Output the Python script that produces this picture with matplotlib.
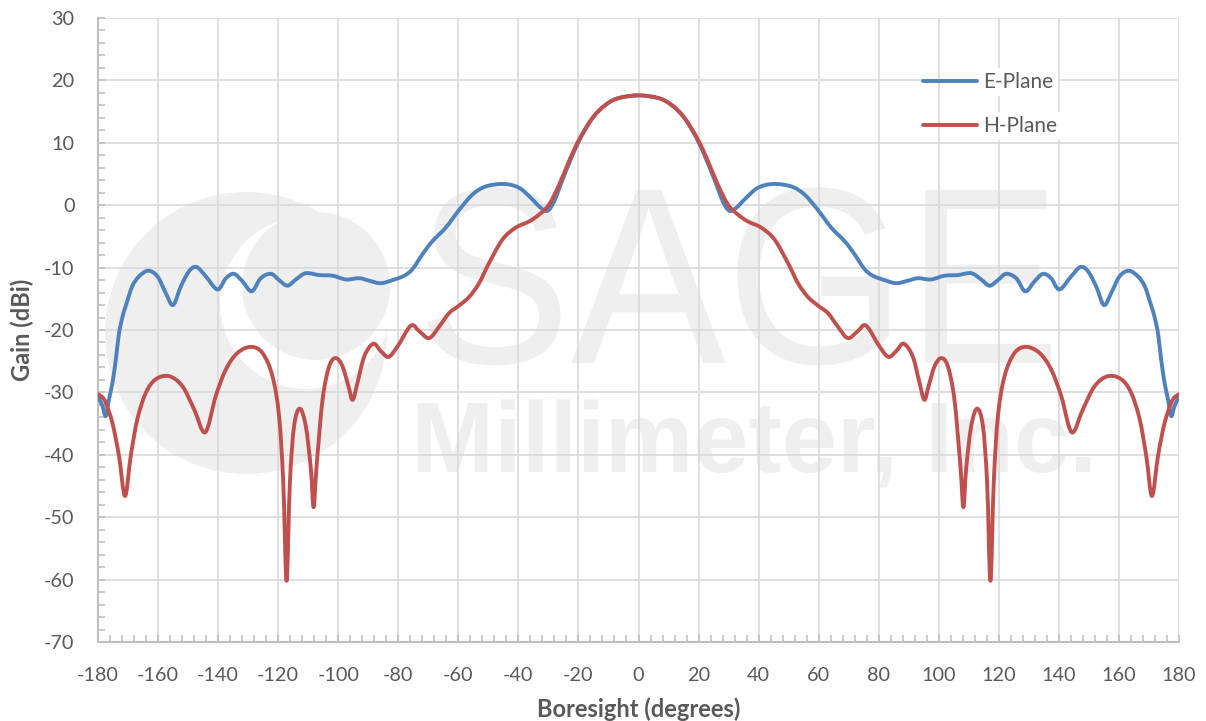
import matplotlib
matplotlib.use("Agg")
import matplotlib.pyplot as plt
from matplotlib.ticker import MultipleLocator
from matplotlib.textpath import TextPath
from matplotlib.patches import PathPatch, Circle
from matplotlib.path import Path
from matplotlib.lines import Line2D
from matplotlib.font_manager import FontProperties
from matplotlib.transforms import Affine2D

# ---------------- data ----------------
E_ANGLE = [-180, -178.5, -177.4, -176.3, -175.2, -174, -173, -171.8, -170.8, -168.6,
           -166.3, -163.3, -160.2, -157.4, -155, -152.4, -149.7, -147.2, -144.1, -140.2,
           -137.4, -134.7, -131.9, -128.8, -125.8, -122.4, -119.7, -116.9, -114.1, -110.8,
           -106.3, -101.9, -97.4, -93, -89.7, -85.8, -81.9, -78, -75.2, -72,
           -68.7, -64.2, -59.8, -55.3, -50.9, -44.8, -39.8, -35.9, -32.6, -30.3,
           -28.1, -25.3, -22.6, -19.8, -16.4, -13.1, -8.7, -4.2, 0,
           4.2, 8.7, 13.1, 16.4, 19.8, 22.6, 25.3, 28.1,
           30.3, 32.6, 35.9, 39.8, 44.8, 50.9, 55.3, 59.8, 64.2, 68.7,
           72, 75.2, 78, 81.9, 85.8, 89.7, 93, 97.4, 101.9, 106.3,
           110.8, 114.1, 116.9, 119.7, 122.4, 125.8, 128.8, 131.9, 134.7, 137.4,
           140.2, 144.1, 147.2, 149.7, 152.4, 155, 157.4, 160.2, 163.3, 166.3,
           168.6, 170.8, 171.8, 173, 174, 175.2, 176.3, 177.4, 178.5, 180]
E_GAIN = [-30.6, -32.2, -33.8, -31.0, -28.5, -24.5, -20.5, -17.8, -16.2, -13.0,
          -11.4, -10.5, -11.4, -14.1, -16.0, -13.0, -10.6, -9.9, -11.4, -13.5,
          -11.7, -11.0, -12.2, -13.8, -11.7, -11.0, -12.0, -12.9, -11.9, -10.9,
          -11.2, -11.3, -11.9, -11.7, -12.1, -12.5, -12.0, -11.3, -10.2, -7.9,
          -5.8, -3.6, -0.8, 1.7, 3.0, 3.4, 2.8, 1.2, -0.4, -0.9,
          0.6, 4.1, 7.3, 10.3, 13.2, 15.2, 16.8, 17.4, 17.6,
          17.4, 16.8, 15.2, 13.2, 10.3, 7.3, 4.1, 0.6,
          -0.9, -0.4, 1.2, 2.8, 3.4, 3.0, 1.7, -0.8, -3.6, -5.8,
          -7.9, -10.2, -11.3, -12.0, -12.5, -12.1, -11.7, -11.9, -11.3, -11.2,
          -10.9, -11.9, -12.9, -12.0, -11.0, -11.7, -13.8, -12.2, -11.0, -11.7,
          -13.5, -11.4, -9.9, -10.6, -13.0, -16.0, -14.1, -11.4, -10.5, -11.4,
          -13.0, -16.2, -17.8, -20.5, -24.5, -28.5, -31.0, -33.8, -32.2, -30.6]

H_ANGLE = [-180, -178.5, -177.4, -175.2, -173, -171, -169.1, -166.9, -164.1, -160.8,
           -156.3, -151.9, -148, -144.3, -140.8, -137.4, -133.6, -129.1, -125.2, -121.9,
           -119.7, -118.3, -117.2, -116.1, -114.7, -112.8, -110.8, -109.1, -108.2, -107.2,
           -105.2, -103, -100.8, -98.6, -96.6, -95.2, -93.6, -91.3, -88.3, -85.8,
           -83.2, -80.2, -75.8, -73, -69.7, -66.3, -63.1, -59.8, -56.4, -53.1,
           -49.8, -45.3, -40.9, -36.4, -33.1, -29.8, -26.4, -23.1, -19.8, -15.3,
           -10.9, -6.4, 0,
           6.4, 10.9, 15.3, 19.8, 23.1, 26.4, 29.8, 33.1, 36.4, 40.9,
           45.3, 49.8, 53.1, 56.4, 59.8, 63.1, 66.3, 69.7, 73, 75.8,
           80.2, 83.2, 85.8, 88.3, 91.3, 93.6, 95.2, 96.6, 98.6, 100.8,
           103, 105.2, 107.2, 108.2, 109.1, 110.8, 112.8, 114.7, 116.1, 117.2,
           118.3, 119.7, 121.9, 125.2, 129.1, 133.6, 137.4, 140.8, 144.3, 148,
           151.9, 156.3, 160.8, 164.1, 166.9, 169.1, 171, 173, 175.2, 177.4,
           178.5, 180]
H_GAIN = [-30.3, -30.8, -31.7, -34.9, -40.2, -46.6, -40.2, -34.3, -30.1, -27.9,
          -27.4, -29.0, -32.7, -36.4, -30.6, -26.3, -23.7, -22.7, -23.7, -27.4,
          -33.8, -44.5, -60.2, -44.5, -35.4, -32.6, -35.4, -42.3, -48.4, -41.8,
          -31.1, -25.8, -24.5, -25.8, -29.0, -31.2, -28.5, -24.2, -22.2, -23.4,
          -24.3, -22.6, -19.3, -20.2, -21.3, -19.4, -17.3, -16.1, -14.7, -12.5,
          -9.3, -5.5, -3.6, -2.6, -1.5, 0.1, 3.3, 7.1, 10.5, 14.0,
          16.1, 17.2, 17.6,
          17.2, 16.1, 14.0, 10.5, 7.1, 3.3, 0.1, -1.5, -2.6, -3.6,
          -5.5, -9.3, -12.5, -14.7, -16.1, -17.3, -19.4, -21.3, -20.2, -19.3,
          -22.6, -24.3, -23.4, -22.2, -24.2, -28.5, -31.2, -29.0, -25.8, -24.5,
          -25.8, -31.1, -41.8, -48.4, -42.3, -35.4, -32.6, -35.4, -44.5, -60.2,
          -44.5, -33.8, -27.4, -23.7, -22.7, -23.7, -26.3, -30.6, -36.4, -32.7,
          -29.0, -27.4, -27.9, -30.1, -34.3, -40.2, -46.6, -40.2, -34.9, -31.7,
          -30.8, -30.3]

SERIES_NAMES = ["E-Plane", "H-Plane"]
X_TICKS = list(range(-180, 181, 20))
Y_TICKS = list(range(-70, 31, 10))
X_LABEL = "Boresight (degrees)"
Y_LABEL = "Gain (dBi)"

# ---------------- style ----------------
plt.rcParams['axes.unicode_minus'] = False
BLUE = '#4F81BD'
RED = '#C0504D'
TXT = '#595959'
GRID = '#d9d9d9'
AXC = '#bfbfbf'
WM = '#efefef'
FONT = 'Lato'
LW = 2.8

W, H = 1206, 721
fig = plt.figure(figsize=(W / 100, H / 100), dpi=100)
L, R, T, B = 98, 1179, 18, 642
ax = fig.add_axes([L / W, 1 - B / H, (R - L) / W, (B - T) / H])

# pixel (top-left origin) -> axes transform, used only for the watermark
pix = Affine2D().scale(1 / (R - L), -1 / (B - T)).translate(-L / (R - L), B / (B - T)) + ax.transAxes

# ---- watermark: logo + text ----
ax.add_patch(Circle((246, 333), 141, transform=pix, fc=WM, ec='none', zorder=0.1))
ax.add_patch(Circle((306, 303), 86, transform=pix, fc='white', ec='none', zorder=0.12))
ax.add_patch(Circle((316, 286), 74, transform=pix, fc=WM, ec='none', zorder=0.14))


def wm_text(s, x0, x1, ybase, cap, fp):
    tp = TextPath((0, 0), s, size=100, prop=fp)
    ext = tp.get_extents()
    capp = TextPath((0, 0), "M", size=100, prop=fp).get_extents()
    sx = (x1 - x0) / ext.width
    sy = cap / capp.y1
    tr = Affine2D().translate(-ext.x0, 0).scale(sx, -sy).translate(x0, ybase) + pix
    ax.add_patch(PathPatch(tp, transform=tr, fc=WM, ec='none', zorder=0.2))


wm_text("SAGE", 427, 1051, 363, 173, FontProperties(family='Liberation Sans'))
wm_text("Millimeter, Inc.", 418, 1090, 472, 69, FontProperties(family='Liberation Sans', weight='bold'))


# ---- series: smoothed line (Excel-style Bezier through the data points) ----
def smooth_path(xs, ys):
    n = len(xs)
    verts = [(xs[0], ys[0])]
    codes = [Path.MOVETO]
    for i in range(n - 1):
        x0, y0 = (xs[i - 1], ys[i - 1]) if i > 0 else (xs[i], ys[i])
        x1, y1 = xs[i], ys[i]
        x2, y2 = xs[i + 1], ys[i + 1]
        x3, y3 = (xs[i + 2], ys[i + 2]) if i + 2 < n else (x2, y2)
        verts += [(x1 + (x2 - x0) / 6, y1 + (y2 - y0) / 6),
                  (x2 - (x3 - x1) / 6, y2 - (y3 - y1) / 6),
                  (x2, y2)]
        codes += [Path.CURVE4] * 3
    return Path(verts, codes)


for xs, ys, col, z in [(E_ANGLE, E_GAIN, BLUE, 3), (H_ANGLE, H_GAIN, RED, 3.1)]:
    ax.add_patch(PathPatch(smooth_path(xs, ys), transform=ax.transData, fc='none', ec=col,
                           lw=LW, joinstyle='round', capstyle='round', zorder=z))

# ---- axes ----
ax.set_xlim(-180, 180)
ax.set_ylim(-70, 30)
ax.set_xticks(X_TICKS)
ax.set_yticks(Y_TICKS)
ax.set_xticklabels([str(v) for v in X_TICKS])
ax.set_yticklabels([str(v) for v in Y_TICKS])
ax.xaxis.set_minor_locator(MultipleLocator(4))
ax.yaxis.set_minor_locator(MultipleLocator(2))
ax.grid(True, which='major', color=GRID, lw=1.2)
ax.set_axisbelow(True)
for s in ['top', 'right']:
    ax.spines[s].set_visible(False)
for s in ['left', 'bottom']:
    ax.spines[s].set_color(AXC)
    ax.spines[s].set_linewidth(1.5)
ax.tick_params(which='both', direction='in', color=AXC, width=1.2, length=5,
               top=False, right=False)
ax.tick_params(axis='both', which='major', labelsize=14.3, labelcolor=TXT)
ax.tick_params(axis='y', which='major', pad=17)
ax.tick_params(axis='x', which='major', pad=18)
for lab in ax.get_xticklabels() + ax.get_yticklabels():
    lab.set_fontfamily(FONT)

ax.set_xlabel(X_LABEL, fontsize=17, fontweight='bold', color=TXT, fontfamily=FONT, va='center')
ax.set_ylabel(Y_LABEL, fontsize=17, fontweight='bold', color=TXT, fontfamily=FONT, va='center')
ax.xaxis.set_label_coords(0.5, (B - 709) / (B - T))
ax.yaxis.set_label_coords((22 - L) / (R - L), 0.5)

handles = [Line2D([], [], color=BLUE, lw=LW, solid_capstyle='round'),
           Line2D([], [], color=RED, lw=LW, solid_capstyle='round')]
leg = ax.legend(handles, SERIES_NAMES, loc='upper left', bbox_to_anchor=((923 - L) / (R - L), (B - 72) / (B - T)),
                frameon=False, handlelength=2.6, handletextpad=0.29, labelspacing=1.16,
                borderpad=0, borderaxespad=0, prop=FontProperties(family=FONT, size=15))
for t in leg.get_texts():
    t.set_color(TXT)
    t.set_bbox(dict(fc='white', ec='none', pad=3))

fig.savefig('out.png', dpi=100, facecolor='white')
